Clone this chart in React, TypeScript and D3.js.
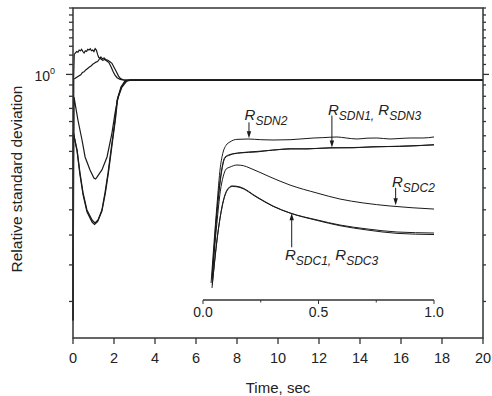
import React from "react";
import * as d3 from "d3";

// main plot: time (s) vs relative standard deviation (log axis)
const plateau = 0.966;

const curveA: [number, number][] = [
  [0, 0.223], [0.03, 0.97], [0.06, 1.13], [0.12, 1.14], [0.18, 1.15], [0.24, 1.145],
  [0.3, 1.16], [0.36, 1.155], [0.42, 1.165], [0.48, 1.15], [0.54, 1.14], [0.6, 1.155],
  [0.66, 1.15], [0.72, 1.165], [0.78, 1.16], [0.84, 1.17], [0.9, 1.155], [0.96, 1.16],
  [1.02, 1.15], [1.08, 1.17], [1.14, 1.16], [1.2, 1.13], [1.25, 1.11], [1.35, 1.1],
  [1.45, 1.09], [1.55, 1.095], [1.65, 1.085], [1.75, 1.075], [1.85, 1.05], [1.95, 1.02],
  [2.05, 0.995], [2.15, 0.98], [2.3, 0.97], [2.5, plateau], [20, plateau],
];
const curveB: [number, number][] = [
  [0, 0.223], [0.03, 0.972], [0.1, 0.975], [0.2, 0.984], [0.3, 0.992], [0.38, 0.998],
  [0.46, 1.012], [0.54, 1.016], [0.62, 1.028], [0.7, 1.035], [0.8, 1.046], [0.88, 1.052],
  [0.96, 1.064], [1.04, 1.07], [1.12, 1.078], [1.2, 1.082], [1.28, 1.097], [1.36, 1.112],
  [1.44, 1.1], [1.52, 1.106], [1.6, 1.094], [1.7, 1.09], [1.8, 1.08], [1.9, 1.07],
  [1.98, 1.05], [2.06, 1.03], [2.14, 1.01], [2.22, 0.99], [2.32, 0.975], [2.45, 0.968],
  [2.7, plateau], [20, plateau],
];
const curveC2: [number, number][] = [
  [0, 0.223], [0.05, 0.871], [0.24, 0.757], [0.44, 0.67], [0.59, 0.604], [0.83, 0.558],
  [1.02, 0.531], [1.1, 0.528], [1.17, 0.534], [1.41, 0.558], [1.66, 0.604], [1.9, 0.699],
  [2.05, 0.79], [2.2, 0.871], [2.39, 0.926], [2.63, 0.961], [2.88, plateau], [20, plateau],
];
const curveC1: [number, number][] = [
  [0, 0.223], [0.02, 0.699], [0.2, 0.63], [0.34, 0.548], [0.49, 0.485], [0.68, 0.437],
  [0.93, 0.411], [1.07, 0.404], [1.22, 0.411], [1.41, 0.437], [1.56, 0.485], [1.71, 0.548],
  [1.9, 0.658], [2.05, 0.757], [2.15, 0.855], [2.34, 0.926], [2.54, 0.961], [2.8, plateau],
  [20, plateau],
];
const curveC3: [number, number][] = [
  [0, 0.223], [0.02, 0.7], [0.2, 0.625], [0.34, 0.542], [0.49, 0.48], [0.68, 0.432],
  [0.93, 0.406], [1.05, 0.4], [1.2, 0.407], [1.41, 0.434], [1.58, 0.485], [1.73, 0.55],
  [1.92, 0.66], [2.07, 0.76], [2.17, 0.855], [2.36, 0.926], [2.56, 0.961], [2.8, plateau],
  [20, plateau],
];
const mainSeries = [curveA, curveB, curveC2, curveC1, curveC3];

const xTicks = d3.range(0, 21, 2);
const yTicks = d3.range(4, 25).map((k) => k / 16);

// inset: first second, arbitrary linear units
const insetN2: [number, number][] = [
  [0.035, 0.1], [0.06, 0.55], [0.075, 0.78], [0.087, 0.87], [0.1, 0.91], [0.117, 0.93],
  [0.147, 0.945], [0.195, 0.947], [0.25, 0.943], [0.303, 0.941], [0.377, 0.943], [0.42, 0.947],
  [0.48, 0.953], [0.519, 0.955], [0.58, 0.959], [0.62, 0.953], [0.667, 0.947], [0.71, 0.952],
  [0.753, 0.953], [0.81, 0.947], [0.84, 0.949], [0.9, 0.953], [0.952, 0.953], [1.0, 0.959],
];
const insetN1: [number, number][] = [
  [0.04, 0.12], [0.06, 0.5], [0.08, 0.75], [0.095, 0.835], [0.117, 0.853], [0.16, 0.865],
  [0.234, 0.871], [0.3, 0.882], [0.377, 0.888], [0.45, 0.89], [0.55, 0.894], [0.65, 0.897],
  [0.736, 0.9], [0.85, 0.905], [1.0, 0.912],
];
const insetN3: [number, number][] = [
  [0.04, 0.14], [0.06, 0.52], [0.08, 0.76], [0.095, 0.84], [0.117, 0.856], [0.16, 0.866],
  [0.234, 0.874], [0.3, 0.881], [0.377, 0.89], [0.45, 0.888], [0.55, 0.896], [0.65, 0.895],
  [0.736, 0.902], [0.85, 0.903], [1.0, 0.914],
];
const insetC2: [number, number][] = [
  [0.04, 0.15], [0.06, 0.45], [0.075, 0.64], [0.087, 0.724], [0.1, 0.77], [0.117, 0.782],
  [0.147, 0.794], [0.175, 0.79], [0.203, 0.776], [0.29, 0.724], [0.377, 0.676], [0.494, 0.629],
  [0.593, 0.594], [0.693, 0.571], [0.81, 0.553], [1.0, 0.535],
];
const insetC1: [number, number][] = [
  [0.039, 0.071], [0.065, 0.4], [0.082, 0.547], [0.104, 0.647], [0.126, 0.671], [0.16, 0.665],
  [0.234, 0.606], [0.303, 0.553], [0.377, 0.512], [0.494, 0.471], [0.593, 0.441], [0.71, 0.418],
  [0.84, 0.4], [1.0, 0.394],
];
const insetC3: [number, number][] = [
  [0.04, 0.09], [0.066, 0.41], [0.083, 0.55], [0.105, 0.645], [0.127, 0.668], [0.16, 0.662],
  [0.234, 0.603], [0.303, 0.551], [0.377, 0.511], [0.494, 0.468], [0.593, 0.437], [0.71, 0.412],
  [0.84, 0.392], [1.0, 0.385],
];
const insetSeries = [insetN2, insetN1, insetN3, insetC2, insetC1, insetC3];
const insetTicks = [0, 0.25, 0.5, 0.75, 1];
const insetLabels = ["0.0", "0.5", "1.0"];

// labels: [text t, text v, subscripts, arrow t, arrow from v, arrow to v]
const notes = [
  { t: 0.18, v: 1.06, subs: ["SDN2"], at: 0.199, from: 1.045, to: 0.952 },
  { t: 0.541, v: 1.088, subs: ["SDN1", "SDN3"], at: 0.558, from: 1.085, to: 0.897 },
  { t: 0.818, v: 0.665, subs: ["SDC2"], at: 0.834, from: 0.66, to: 0.558 },
  { t: 0.355, v: 0.235, subs: ["SDC1", "SDC3"], at: 0.384, from: 0.31, to: 0.51 },
];

const W = 492;
const H = 396;
const font = "'Liberation Sans', Arial, sans-serif";
const axisColor = "#333";
const lineColor = "#1a1a1a";

export default function App() {
  const x = d3.scaleLinear().domain([0, 20]).range([73, 483]);
  const y = d3.scaleLog().domain([0.2, 1.5]).range([338, 8]);
  const xIn = d3.scaleLinear().domain([0, 1]).range([203, 434]);
  const yIn = d3.scaleLinear().domain([0, 1]).range([300, 130]);

  const line = d3.line<[number, number]>().x((d) => x(d[0])).y((d) => y(d[1]));
  const lineIn = d3
    .line<[number, number]>()
    .x((d) => xIn(d[0]))
    .y((d) => yIn(d[1]))
    .curve(d3.curveMonotoneX);

  return (
    <svg
      width={W}
      height={H}
      style={{ position: "absolute", left: 0, top: 0, background: "#fff" }}
      fontFamily={font}
    >
      {/* curves */}
      {mainSeries.map((s, i) => (
        <path key={i} d={line(s) || ""} fill="none" stroke={lineColor} strokeWidth={1.2} />
      ))}

      {/* frame */}
      <rect x={73} y={8} width={410} height={330} fill="none" stroke={axisColor} strokeWidth={1.5} />

      {/* y ticks left + right */}
      {yTicks.map((v) => {
        const major = v === 1;
        const len = major ? 7 : 4;
        return (
          <g key={v}>
            <line x1={73 - len} x2={73} y1={y(v)} y2={y(v)} stroke={axisColor} strokeWidth={1.3} />
            <line x1={483} x2={483 + len - 1} y1={y(v)} y2={y(v)} stroke={axisColor} strokeWidth={1.3} />
          </g>
        );
      })}
      <text x={55} y={y(1) + 6.5} textAnchor="end" fontSize={14} fill="#222">
        10
        <tspan dy={-7} fontSize={9}>0</tspan>
      </text>

      {/* x ticks */}
      {xTicks.map((t) => (
        <g key={t}>
          <line x1={x(t)} x2={x(t)} y1={338} y2={344} stroke={axisColor} strokeWidth={1.3} />
          <text x={x(t)} y={363} textAnchor="middle" fontSize={14.5} fill="#222">
            {t}
          </text>
        </g>
      ))}

      <text x={278} y={393} textAnchor="middle" fontSize={15} fill="#222">
        Time, sec
      </text>
      <text
        transform="translate(22,179) rotate(-90)"
        textAnchor="middle"
        fontSize={15.5}
        fill="#222"
      >
        Relative standard deviation
      </text>

      {/* inset */}
      {insetSeries.map((s, i) => (
        <path key={i} d={lineIn(s) || ""} fill="none" stroke={lineColor} strokeWidth={1} />
      ))}
      <line x1={xIn(0)} x2={xIn(1)} y1={300} y2={300} stroke={axisColor} strokeWidth={1.3} />
      {insetTicks.map((t, i) => (
        <line
          key={t}
          x1={xIn(t)}
          x2={xIn(t)}
          y1={300}
          y2={i % 2 === 0 ? 304 : 302.5}
          stroke={axisColor}
          strokeWidth={1}
        />
      ))}
      {insetLabels.map((l, i) => (
        <text key={l} x={xIn(i * 0.5)} y={317} textAnchor="middle" fontSize={14} fill="#222">
          {l}
        </text>
      ))}

      {notes.map((n, i) => {
        const ax = xIn(n.at);
        const y1 = yIn(n.from);
        const y2 = yIn(n.to);
        const dir = y2 > y1 ? 1 : -1;
        return (
          <g key={i}>
            <line x1={ax} x2={ax} y1={y1} y2={y2 - dir * 5} stroke={lineColor} strokeWidth={1} />
            <path
              d={`M${ax - 2.2},${y2 - dir * 7} L${ax + 2.2},${y2 - dir * 7} L${ax},${y2} Z`}
              fill={lineColor}
            />
            <text x={xIn(n.t)} y={yIn(n.v)} fontSize={15} fontStyle="italic" fill="#222">
              {n.subs.map((s, j) => (
                <React.Fragment key={s}>
                  <tspan dy={j === 0 ? 0 : -5}>{j === 0 ? "R" : " R"}</tspan>
                  <tspan dy={5} fontSize={12}>
                    {s}
                    {j < n.subs.length - 1 ? "," : ""}
                  </tspan>
                </React.Fragment>
              ))}
            </text>
          </g>
        );
      })}
    </svg>
  );
}
